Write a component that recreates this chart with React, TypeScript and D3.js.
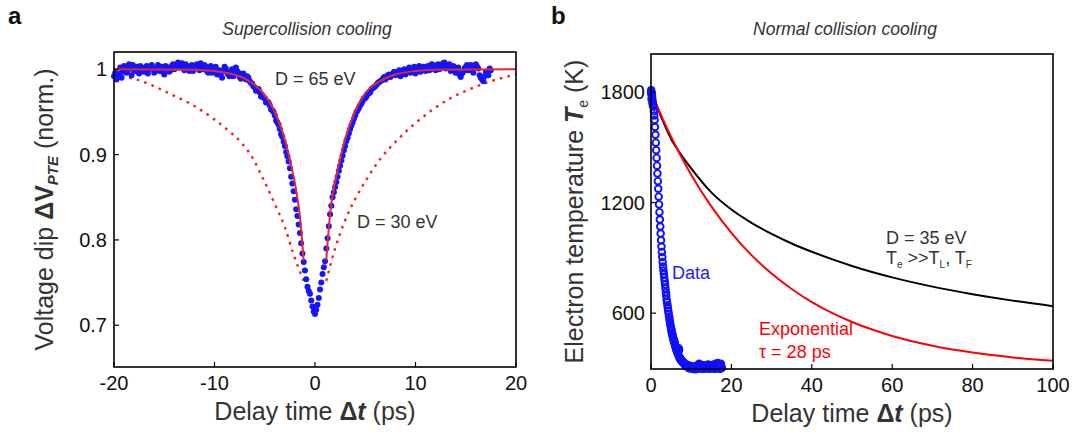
import React from 'react';
import * as d3 from 'd3';

const FONT = '"Liberation Sans", Arial, Helvetica, sans-serif';

// ---------- Panel a : Supercollision cooling ----------
const aXTicks = [-20, -10, 0, 10, 20];
const aYTicks = [0.7, 0.8, 0.9, 1];
const aYTickLabels = ['0.7', '0.8', '0.9', '1'];

const aData: [number, number][] = [
  [-20.0, 0.992], [-19.75, 0.988], [-19.5, 0.995], [-19.25, 0.99], [-19.0, 1.004], [-18.75, 0.996],
  [-18.5, 1.006], [-18.25, 0.993], [-18.0, 0.998], [-17.75, 1.003], [-17.5, 0.995], [-17.25, 1.001],
  [-17.0, 0.997], [-16.75, 1.004], [-16.5, 1.0], [-16.25, 1.005], [-16.0, 0.996], [-15.75, 1.002],
  [-15.5, 0.998], [-15.25, 1.003], [-15.0, 0.994], [-14.75, 1.001], [-14.5, 0.997], [-14.25, 1.004],
  [-14.0, 1.0], [-13.75, 1.006], [-13.5, 1.002], [-13.25, 1.007], [-13.0, 0.999], [-12.75, 1.004],
  [-12.5, 0.998], [-12.25, 1.005], [-12.0, 1.001], [-11.75, 1.006], [-11.5, 0.999], [-11.25, 1.003],
  [-11.0, 1.005], [-10.75, 0.998], [-10.5, 1.002], [-10.25, 0.996], [-10.0, 1.001], [-9.75, 0.994],
  [-9.5, 0.999], [-9.25, 0.99], [-9.0, 1.003], [-8.75, 0.996], [-8.5, 0.992], [-8.25, 1.0],
  [-8.0, 0.995], [-7.75, 0.998], [-7.5, 0.991], [-7.25, 0.994], [-7.0, 0.99], [-6.75, 0.992],
  [-6.5, 0.986], [-6.25, 0.983], [-6.0, 0.979], [-5.75, 0.976], [-5.5, 0.973], [-5.25, 0.97],
  [-5.0, 0.966], [-4.75, 0.962], [-4.5, 0.958], [-4.25, 0.952], [-4.0, 0.946], [-3.75, 0.938],
  [-3.5, 0.93], [-3.25, 0.921], [-3.0, 0.91], [-2.75, 0.898], [-2.5, 0.884], [-2.25, 0.866],
  [-2.0, 0.847], [-1.75, 0.828], [-1.5, 0.808], [-1.25, 0.784], [-1.0, 0.764], [-0.75, 0.745],
  [-0.5, 0.737], [-0.25, 0.722], [0.0, 0.713], [0.25, 0.724], [0.5, 0.742], [0.75, 0.76],
  [1.0, 0.775], [1.25, 0.802], [1.5, 0.83], [1.75, 0.85], [2.0, 0.862], [2.25, 0.874],
  [2.5, 0.887], [2.75, 0.899], [3.0, 0.91], [3.25, 0.92], [3.5, 0.93], [3.75, 0.938],
  [4.0, 0.946], [4.25, 0.952], [4.5, 0.958], [4.75, 0.963], [5.0, 0.966], [5.25, 0.971],
  [5.5, 0.973], [5.75, 0.978], [6.0, 0.98], [6.25, 0.984], [6.5, 0.986], [6.75, 0.989],
  [7.0, 0.988], [7.25, 0.993], [7.5, 0.991], [7.75, 0.995], [8.0, 0.993], [8.25, 0.997],
  [8.5, 0.992], [8.75, 0.998], [9.0, 0.994], [9.25, 0.999], [9.5, 0.996], [9.75, 1.001],
  [10.0, 0.995], [10.25, 1.002], [10.5, 0.997], [10.75, 1.003], [11.0, 0.998], [11.25, 1.004],
  [11.5, 1.0], [11.75, 1.005], [12.0, 0.999], [12.25, 1.006], [12.5, 1.002], [12.75, 1.007],
  [13.0, 1.001], [13.25, 1.005], [13.5, 0.998], [13.75, 1.004], [14.0, 0.996], [14.25, 1.002],
  [14.5, 0.991], [14.75, 0.997], [15.0, 1.003], [15.25, 0.999], [15.5, 1.005], [15.75, 0.996],
  [16.0, 1.006], [16.25, 1.001], [16.5, 0.99], [16.75, 0.986], [17.0, 0.997], [17.25, 0.993],
  [17.5, 0.999],
];

// interleaved samples of the same measurement
const aData2: [number, number][] = [
  [-19.875, 0.996], [-19.625, 0.991], [-19.375, 1.002], [-19.125, 0.997], [-18.875, 1.001], [-18.625, 0.999],
  [-18.375, 1.002], [-18.125, 1.005], [-17.875, 0.999], [-17.625, 0.997], [-17.375, 1.004], [-17.125, 0.999],
  [-16.875, 1.002], [-16.625, 0.995], [-16.375, 1.003], [-16.125, 1.001], [-15.875, 0.999], [-15.625, 1.005],
  [-15.375, 1.0], [-15.125, 0.997], [-14.875, 1.004], [-14.625, 1.002], [-14.375, 0.999], [-14.125, 1.006],
  [-13.875, 1.003], [-13.625, 1.008], [-13.375, 1.004], [-13.125, 1.002], [-12.875, 1.006], [-12.625, 1.001],
  [-12.375, 1.003], [-12.125, 0.998], [-11.875, 1.004], [-11.625, 1.002], [-11.375, 1.007], [-11.125, 1.0],
  [-10.875, 1.003], [-10.625, 0.996], [-10.375, 1.004], [-10.125, 0.999], [-9.875, 1.003], [-9.625, 0.997],
  [-9.375, 0.993], [-9.125, 0.998], [-8.875, 1.001], [-8.625, 0.994], [-8.375, 0.997], [-8.125, 0.992],
  [-7.875, 1.002], [-7.625, 0.996], [-7.375, 0.989], [-7.125, 0.995], [-6.875, 0.988], [-6.625, 0.99],
  [-6.375, 0.984], [-6.125, 0.98], [-5.875, 0.975], [-5.625, 0.977], [-5.375, 0.968], [-5.125, 0.967],
  [-4.875, 0.961], [-4.625, 0.961], [-4.375, 0.953], [-4.125, 0.95], [-3.875, 0.94], [-3.625, 0.935],
  [-3.375, 0.924], [-3.125, 0.915], [-2.875, 0.903], [-2.625, 0.892], [-2.375, 0.874], [-2.125, 0.857],
  [-1.875, 0.836], [-1.625, 0.818], [-1.375, 0.796], [-1.125, 0.774], [-0.875, 0.754], [-0.625, 0.74],
  [-0.375, 0.729], [-0.125, 0.716], [0.125, 0.718], [0.375, 0.732], [0.625, 0.75], [0.875, 0.768],
  [1.125, 0.79], [1.375, 0.816], [1.625, 0.84], [1.875, 0.856], [2.125, 0.868], [2.375, 0.881],
  [2.625, 0.893], [2.875, 0.905], [3.125, 0.916], [3.375, 0.925], [3.625, 0.934], [3.875, 0.942],
  [4.125, 0.95], [4.375, 0.955], [4.625, 0.96], [4.875, 0.966], [5.125, 0.968], [5.375, 0.972],
  [5.625, 0.977], [5.875, 0.979], [6.125, 0.982], [6.375, 0.985], [6.625, 0.987], [6.875, 0.991],
  [7.125, 0.99], [7.375, 0.994], [7.625, 0.993], [7.875, 0.997], [8.125, 0.995], [8.375, 0.999],
  [8.625, 0.996], [8.875, 1.0], [9.125, 0.997], [9.375, 1.002], [9.625, 0.998], [9.875, 1.003],
  [10.125, 0.999], [10.375, 1.004], [10.625, 1.0], [10.875, 1.001], [11.125, 1.003], [11.375, 0.999],
  [11.625, 1.006], [11.875, 1.002], [12.125, 1.004], [12.375, 1.0], [12.625, 1.005], [12.875, 1.008],
  [13.125, 1.003], [13.375, 1.006], [13.625, 1.001], [13.875, 1.002], [14.125, 0.999], [14.375, 0.994],
  [14.625, 0.995], [14.875, 1.001], [15.125, 1.005], [15.375, 1.002], [15.625, 0.999], [15.875, 1.004],
  [16.125, 1.003], [16.375, 0.993], [16.625, 0.988], [16.875, 0.992], [17.125, 0.996], [17.375, 1.001],
];

const aFit65Left: [number, number][] = [
  [-20, 1.0], [-12, 0.9995], [-10, 0.998], [-8.5, 0.995], [-7.3, 0.991], [-6.3, 0.984],
  [-5.3, 0.974], [-4.2, 0.955], [-3.2, 0.925], [-2.7, 0.904], [-2.2, 0.878], [-1.8, 0.853],
  [-1.5, 0.827], [-1.13, 0.776],
];
const aFit65Right: [number, number][] = [
  [1.12, 0.776], [1.5, 0.83], [1.9, 0.862], [2.33, 0.886], [3.0, 0.918], [4.04, 0.952],
  [5.0, 0.972], [6.46, 0.986], [8, 0.994], [10, 0.998], [12, 0.9995], [20, 1.0],
];
const aFit30Left: [number, number][] = [
  [-20, 0.994], [-17, 0.985], [-14.2, 0.97], [-12, 0.957], [-10.1, 0.942], [-8.5, 0.927],
  [-7.33, 0.914], [-6.2, 0.896], [-5.26, 0.874], [-3.88, 0.839], [-3.0, 0.815], [-2.16, 0.784],
  [-1.13, 0.752],
];
const aFit30Right: [number, number][] = [
  [1.12, 0.752], [2.0, 0.79], [3.0, 0.823], [4.0, 0.848], [5.08, 0.87], [6.5, 0.895],
  [8.18, 0.917], [10, 0.937], [11.63, 0.952], [13.3, 0.965], [15.07, 0.975], [17.5, 0.986],
  [20, 0.994],
];

// ---------- Panel b : Normal collision cooling ----------
const bXTicks = [0, 20, 40, 60, 80, 100];
const bYTicks = [600, 1200, 1800];

const bData: [number, number][] = [
  [0.0, 1800], [0.1, 1790], [0.2, 1775], [0.3, 1768], [0.4, 1750], [0.5, 1735], [0.6, 1720],
  [0.7, 1695], [0.8, 1672], [0.9, 1648], [1.0, 1610], [1.1, 1568], [1.2, 1525], [1.3, 1484],
  [1.4, 1442], [1.5, 1400], [1.6, 1358], [1.7, 1316], [1.8, 1275], [1.9, 1232], [2.0, 1190],
  [2.1, 1148], [2.2, 1108], [2.3, 1070], [2.4, 1032], [2.5, 995], [2.6, 961], [2.7, 932],
  [2.8, 905], [2.9, 878], [3.0, 853], [3.1, 832], [3.2, 812], [3.3, 793], [3.4, 774],
  [3.5, 755], [3.6, 735], [3.7, 714], [3.8, 694], [3.9, 672], [4.0, 658], [4.1, 643],
  [4.2, 628], [4.3, 612], [4.4, 597], [4.5, 582], [4.6, 568], [4.7, 555], [4.8, 541],
  [4.9, 528], [5.0, 516], [5.1, 504], [5.2, 492], [5.3, 483], [5.4, 474], [5.5, 466],
  [5.6, 458], [5.7, 450], [5.8, 442], [5.9, 434], [6.0, 426], [6.1, 418], [6.2, 411],
  [6.3, 404], [6.4, 397], [6.5, 391], [6.6, 385], [6.7, 379], [6.8, 395], [6.9, 410],
  [7.0, 400], [7.1, 358], [7.2, 355], [7.3, 352], [7.4, 349], [7.5, 346], [7.6, 343],
  [7.7, 340], [7.8, 337], [7.9, 335], [8.0, 333], [8.1, 331], [8.2, 329], [8.4, 325],
  [8.6, 318], [8.8, 322], [9.0, 312], [9.2, 316], [9.4, 308], [9.6, 314], [9.8, 305],
  [10.0, 311], [10.2, 302], [10.4, 309], [10.6, 298], [10.8, 306], [11.0, 300], [11.2, 312],
  [11.4, 297], [11.6, 305], [11.8, 320], [12.0, 326], [12.2, 310], [12.4, 302], [12.6, 314],
  [12.8, 306], [13.0, 318], [13.2, 299], [13.4, 311], [13.6, 304], [13.8, 316], [14.0, 308],
  [14.2, 321], [14.4, 302], [14.6, 312], [14.8, 300], [15.0, 318], [15.2, 306], [15.4, 315],
  [15.6, 301], [15.8, 322], [16.0, 310], [16.2, 326], [16.4, 305], [16.6, 330], [16.8, 300],
  [17.0, 316], [17.2, 298], [17.4, 325], [17.6, 303],
];

// interleaved samples of the same measurement
const bData2: [number, number][] = [
  [0.05, 1810], [0.15, 1762], [0.25, 1785], [0.35, 1745], [0.45, 1728], [5.05, 510], [5.25, 490],
  [5.45, 476], [5.65, 455], [5.85, 445], [6.05, 425], [6.25, 412], [6.45, 398], [6.65, 388],
  [6.85, 372], [7.05, 362], [7.25, 352], [7.45, 345], [7.65, 340], [7.85, 334], [8.05, 330],
  [8.3, 324], [8.5, 316], [8.7, 320], [8.9, 310], [9.1, 318], [9.3, 304], [9.5, 312],
  [9.7, 300], [9.9, 308], [10.1, 304], [10.3, 298], [10.5, 310], [10.7, 302], [10.9, 296],
  [11.1, 306], [11.3, 303], [11.5, 314], [11.7, 309], [11.9, 316], [12.1, 322], [12.3, 305],
  [12.5, 298], [12.7, 309], [12.9, 312], [13.1, 304], [13.3, 316], [13.5, 300], [13.7, 310],
  [13.9, 305], [14.1, 314], [14.3, 298], [14.5, 308], [14.7, 316], [14.9, 304], [15.1, 300],
  [15.3, 312], [15.5, 320], [15.7, 306], [15.9, 298], [16.1, 318], [16.3, 312], [16.5, 302],
  [16.7, 320], [16.9, 312], [17.1, 306], [17.3, 318], [17.5, 310],
];

const bModelD35: [number, number][] = [
  [0.9, 1755], [3, 1640], [5, 1545], [7, 1475], [10, 1385], [15, 1255], [20, 1162],
  [25, 1090], [30, 1030], [35, 978], [40, 933], [45, 893], [50, 856], [60, 794],
  [70, 744], [80, 703], [90, 668], [100, 638],
];
const bExp28: [number, number][] = [
  [0.9, 1755], [3, 1650], [5, 1557], [7, 1470], [10, 1351], [15, 1179], [20, 1036],
  [25, 915], [30, 815], [35, 731], [40, 660], [45, 601], [50, 552], [55, 511], [60, 476],
  [70, 423], [80, 386], [90, 360], [100, 342],
];

const BOX_A = { x0: 114, x1: 516, y0: 52, y1: 367 };
const BOX_B = { x0: 651, x1: 1053, y0: 54, y1: 369 };

const TICK = 5;
const TXT = '#333';

function Frame({ box }: { box: { x0: number; x1: number; y0: number; y1: number } }) {
  return (
    <rect x={box.x0} y={box.y0} width={box.x1 - box.x0} height={box.y1 - box.y0}
      fill="none" stroke="#000" strokeWidth={1.6} />
  );
}

function PanelA() {
  const b = BOX_A;
  const x = d3.scaleLinear().domain([-20, 20]).range([b.x0, b.x1]);
  const y = d3.scaleLinear().domain([0.651, 1.0203]).range([b.y1, b.y0]);
  const line = d3.line<[number, number]>().x(d => x(d[0])).y(d => y(d[1])).curve(d3.curveMonotoneX);
  const pts = aData.concat(aData2);
  return (
    <g>
      <text x={8} y={24} fontSize={24} fontWeight="bold" fill="#111">a</text>
      <text x={307} y={35} textAnchor="middle" fontSize={17.5} fontStyle="italic" fill={TXT}>Supercollision cooling</text>
      {[aFit30Left, aFit30Right].map((s, i) => (
        <path key={'d' + i} d={line(s) || ''} fill="none" stroke="#ff1a1a" strokeWidth={2.4} strokeDasharray="2.6 5.2" />
      ))}
      {pts.map((d, i) => (
        <circle key={i} cx={x(d[0])} cy={y(d[1])} r={3} fill="#1414ff" />
      ))}
      {[aFit65Left, aFit65Right].map((s, i) => (
        <path key={'s' + i} d={line(s) || ''} fill="none" stroke="#e8262b" strokeWidth={2} />
      ))}
      <Frame box={b} />
      {aXTicks.map(t => (
        <g key={'x' + t}>
          <line x1={x(t)} x2={x(t)} y1={b.y1} y2={b.y1 - TICK} stroke="#000" strokeWidth={1.2} />
          <text x={x(t)} y={390} textAnchor="middle" fontSize={20} fill="#111">{t < 0 ? '-' + Math.abs(t) : t}</text>
        </g>
      ))}
      {aYTicks.map((t, i) => (
        <g key={'y' + t}>
          <line x1={b.x0} x2={b.x0 + TICK} y1={y(t)} y2={y(t)} stroke="#000" strokeWidth={1.2} />
          <text x={b.x0 - 7} y={y(t) + 7} textAnchor="end" fontSize={20} fill="#111">{aYTickLabels[i]}</text>
        </g>
      ))}
      <text x={(b.x0 + b.x1) / 2} y={420} textAnchor="middle" fontSize={25} fill={TXT}>
        Delay time <tspan fontWeight="bold">Δ</tspan><tspan fontWeight="bold" fontStyle="italic">t</tspan> (ps)
      </text>
      <text transform={`translate(53,${(b.y0 + b.y1) / 2}) rotate(-90)`} textAnchor="middle" fontSize={25} fill={TXT}>
        Voltage dip <tspan fontWeight="bold">ΔV</tspan><tspan fontWeight="bold" fontStyle="italic" fontSize={15} dy={5}>PTE</tspan><tspan dy={-5}> (norm.)</tspan>
      </text>
      <text x={275} y={85} fontSize={18} fill={TXT}>D = 65 eV</text>
      <text x={357} y={228} fontSize={18} fill={TXT}>D = 30 eV</text>
    </g>
  );
}

function PanelB() {
  const b = BOX_B;
  const x = d3.scaleLinear().domain([0, 100]).range([b.x0, b.x1]);
  const y = d3.scaleLinear().domain([297, 2006]).range([b.y1, b.y0]);
  const line = d3.line<[number, number]>().x(d => x(d[0])).y(d => y(d[1])).curve(d3.curveMonotoneX);
  const pts = bData.concat(bData2);
  return (
    <g>
      <text x={551} y={24} fontSize={24} fontWeight="bold" fill="#111">b</text>
      <text x={845} y={35} textAnchor="middle" fontSize={17.5} fontStyle="italic" fill={TXT}>Normal collision cooling</text>
      <path d={line(bModelD35) || ''} fill="none" stroke="#000" strokeWidth={2} />
      <path d={line(bExp28) || ''} fill="none" stroke="#ff0000" strokeWidth={2} />
      {pts.map((d, i) => (
        <circle key={i} cx={x(d[0])} cy={y(d[1])} r={3.3} fill="none" stroke="#1010ff" strokeWidth={1.9} />
      ))}
      <Frame box={b} />
      {bXTicks.map(t => (
        <g key={'x' + t}>
          <line x1={x(t)} x2={x(t)} y1={b.y1} y2={b.y1 - TICK} stroke="#000" strokeWidth={1.2} />
          <text x={x(t)} y={392} textAnchor="middle" fontSize={20} fill="#111">{t}</text>
        </g>
      ))}
      {bYTicks.map(t => (
        <g key={'y' + t}>
          <line x1={b.x0} x2={b.x0 + TICK} y1={y(t)} y2={y(t)} stroke="#000" strokeWidth={1.2} />
          <text x={b.x0 - 6} y={y(t) + 7} textAnchor="end" fontSize={20} fill="#111">{t}</text>
        </g>
      ))}
      <text x={(b.x0 + b.x1) / 2} y={422} textAnchor="middle" fontSize={25} fill={TXT}>
        Delay time <tspan fontWeight="bold">Δ</tspan><tspan fontWeight="bold" fontStyle="italic">t</tspan> (ps)
      </text>
      <text transform={`translate(583,${(b.y0 + b.y1) / 2}) rotate(-90)`} textAnchor="middle" fontSize={25} fill={TXT}>
        Electron temperature <tspan fontWeight="bold" fontStyle="italic">T</tspan><tspan fontSize={14} dy={5}>e</tspan><tspan dy={-5}> (K)</tspan>
      </text>
      <text x={886} y={244} fontSize={18} fill={TXT}>D = 35 eV</text>
      <text x={886} y={264} fontSize={18} fill={TXT}>
        T<tspan fontSize={10} dy={4}>e</tspan><tspan dy={-4}> &gt;&gt;T</tspan><tspan fontSize={10} dy={4}>L</tspan><tspan dy={-4}>, T</tspan><tspan fontSize={10} dy={4}>F</tspan>
      </text>
      <text x={672} y={279} fontSize={18} fill="#1a1aff">Data</text>
      <text x={759} y={335} fontSize={18} fill="#ff0000">Exponential</text>
      <text x={759} y={358} fontSize={18} fill="#ff0000">τ = 28 ps</text>
    </g>
  );
}

export default function App() {
  return (
    <svg width={1083} height={435} viewBox="0 0 1083 435"
      style={{ position: 'absolute', left: 0, top: 0, background: '#fff', fontFamily: FONT }}>
      <rect x={0} y={0} width={1083} height={435} fill="#fff" />
      <PanelA />
      <PanelB />
    </svg>
  );
}
